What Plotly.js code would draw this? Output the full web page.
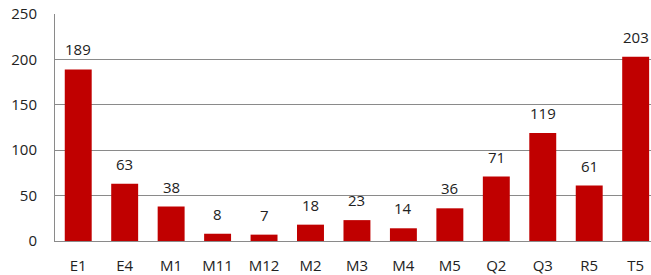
<!DOCTYPE html>
<html>
<head>
<meta charset="utf-8">
<script src="https://cdn.plot.ly/plotly-3.0.1.min.js"></script>
<style>html,body{margin:0;padding:0;background:#fff;}#chart{width:651px;height:275px;}</style>
</head>
<body>
<div id="chart"></div>
<script>
const categories = ["E1","E4","M1","M11","M12","M2","M3","M4","M5","Q2","Q3","R5","T5"];
const values = [189,63,38,8,7,18,23,14,36,71,119,61,203];
const yTicks = [0,50,100,150,200,250];

const font = {family: "Open Sans, DejaVu Sans, sans-serif", size: 15, color: "#222"};

const annotations = categories.map((c, i) => ({
  x: c, y: values[i], text: String(values[i]), showarrow: false,
  yanchor: "bottom", yshift: 8, font: font
}));

Plotly.newPlot("chart", [{
  type: "bar", x: categories, y: values,
  marker: {color: "#C00000"},
  hoverinfo: "none"
}], {
  width: 651, height: 275,
  margin: {l: 55, r: 0, t: 14, b: 34},
  paper_bgcolor: "#fff", plot_bgcolor: "#fff",
  bargap: 0.42,
  showlegend: false,
  font: font,
  xaxis: {
    type: "category", range: [-0.5, 12.33],
    showgrid: false, showline: true, linecolor: "#8a8a8a", linewidth: 1,
    ticks: "outside", ticklen: 11, tickcolor: "rgba(0,0,0,0)",
    tickfont: font, zeroline: false
  },
  yaxis: {
    range: [0, 250], tickvals: yTicks,
    showgrid: true, gridcolor: "#8a8a8a", gridwidth: 1,
    showline: true, linecolor: "#8a8a8a", linewidth: 1,
    ticks: "outside", ticklen: 14, tickcolor: "rgba(0,0,0,0)",
    tickfont: font, zeroline: false
  },
  annotations: annotations
}, {staticPlot: true});
</script>
</body>
</html>
